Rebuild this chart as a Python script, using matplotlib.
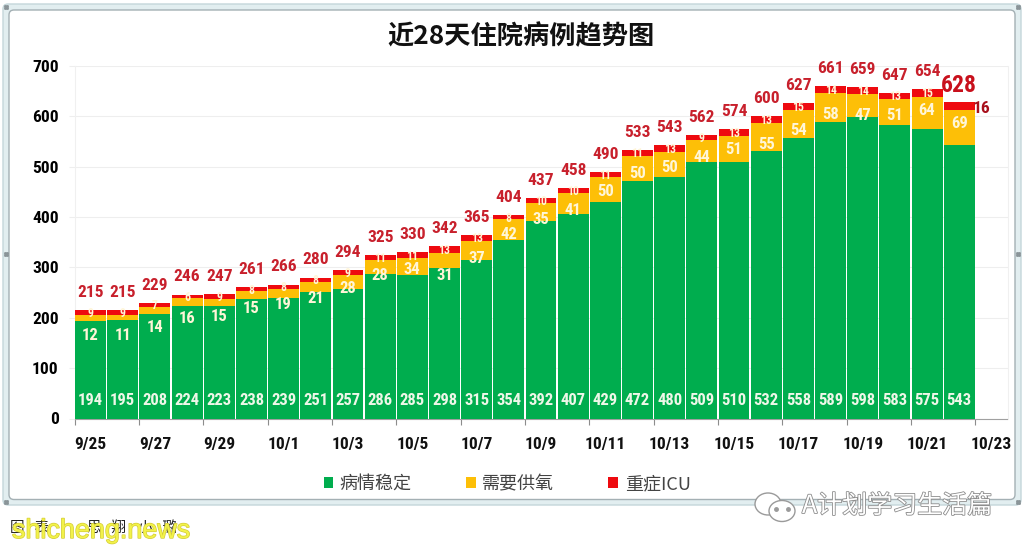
import matplotlib
matplotlib.use("Agg")
import matplotlib.pyplot as plt
from matplotlib import font_manager as fm
from matplotlib.patches import Ellipse, FancyBboxPatch
from matplotlib.ticker import FixedLocator
import matplotlib.patheffects as pe

W, H = 1024, 551

DATES = ["9/25", "9/26", "9/27", "9/28", "9/29", "9/30", "10/1", "10/2", "10/3", "10/4",
         "10/5", "10/6", "10/7", "10/8", "10/9", "10/10", "10/11", "10/12", "10/13", "10/14",
         "10/15", "10/16", "10/17", "10/18", "10/19", "10/20", "10/21", "10/22"]
STABLE = [194, 195, 208, 224, 223, 238, 239, 251, 257, 286, 285, 298, 315, 354,
          392, 407, 429, 472, 480, 509, 510, 532, 558, 589, 598, 583, 575, 543]
OXYGEN = [12, 11, 14, 16, 15, 15, 19, 21, 28, 28, 34, 31, 37, 42,
          35, 41, 50, 50, 50, 44, 51, 55, 54, 58, 47, 51, 64, 69]
ICU = [9, 9, 7, 6, 9, 8, 8, 8, 9, 11, 11, 13, 13, 8,
       10, 10, 11, 11, 13, 9, 13, 13, 15, 14, 14, 13, 15, 16]
TOTAL = [215, 215, 229, 246, 247, 261, 266, 280, 294, 325, 330, 342, 365, 404,
         437, 458, 490, 533, 543, 562, 574, 600, 627, 661, 659, 647, 654, 628]
TICK_LABELS = ["9/25", "9/27", "9/29", "10/1", "10/3", "10/5", "10/7", "10/9", "10/11",
               "10/13", "10/15", "10/17", "10/19", "10/21", "10/23"]
YTICKS = [0, 100, 200, 300, 400, 500, 600, 700]

# the oxygen labels were placed by hand in the source, so read their heights off it
OXYGEN_LABEL_Y = [165, 165, 181, 199, 203, 219, 227, 239, 258, 284, 296, 284, 318, 366,
                  396, 414, 450, 486, 499, 519, 535, 545, 571, 604, 602, 602, 611, 586]

GREEN, YELLOW, RED = "#00ad4e", "#fdbf07", "#ee0a0f"
LABEL_RED = "#c8202c"
CJK = ["Noto Sans CJK SC", "DejaVu Sans"]

# narrowest family that is actually installed
installed = {f.name for f in fm.fontManager.ttflist}
NARROW = next((n for n in ["Liberation Sans Narrow", "Roboto Condensed", "Open Sans Condensed",
                           "Lato", "Roboto"] if n in installed), "DejaVu Sans")
plt.rcParams["font.family"] = [NARROW, "DejaVu Sans"]

fig = plt.figure(figsize=(W / 100, H / 100), dpi=100)
bg = fig.add_axes([0, 0, 1, 1], zorder=0)
bg.set_xlim(0, W)
bg.set_ylim(H, 0)
bg.axis("off")
# the screenshot's rounded chart frame with its resize handles
bg.add_patch(FancyBboxPatch((3, 4), 1018, 501, boxstyle="round,pad=0,rounding_size=5",
                            fc="#e2eef0", ec="#c4d6da", lw=1))
bg.add_patch(FancyBboxPatch((9, 10), 1006, 489.5, boxstyle="round,pad=0,rounding_size=5",
                            fc="white", ec="#a4b0b4", lw=1))
for hx, hy in [(6, 7), (1018, 7), (6, 502), (1018, 502), (6, 254), (1018, 254)]:
    bg.plot([hx - 1, hx + 1, hx - 1, hx + 1], [hy - 1, hy - 1, hy + 1, hy + 1], ls="none",
            marker="s", ms=1, color="#8a9498")

ax = fig.add_axes([74.5 / W, 1 - 418.5 / H, (1007.5 - 74.5) / W, (418.5 - 66) / H], zorder=1)
ax.patch.set_alpha(0)
x = list(range(len(DATES)))
ax.bar(x, STABLE, width=0.96, color=GREEN, zorder=3, label="病情稳定")
ax.bar(x, OXYGEN, width=0.96, bottom=STABLE, color=YELLOW, zorder=3, label="需要供氧")
bottom_icu = [s + o for s, o in zip(STABLE, OXYGEN)]
ax.bar(x, ICU, width=0.96, bottom=bottom_icu, color=RED, zorder=3, label="重症ICU")

last = len(x) - 1
for i in x:
    ax.text(i, 35, STABLE[i], ha="center", va="center", color="#eef7e8",
            fontsize=12, fontweight="bold", zorder=4)
    ax.text(i, OXYGEN_LABEL_Y[i], OXYGEN[i], ha="center", va="center", color="#fff6d8",
            fontsize=12, fontweight="bold", zorder=4)
    if i != last:
        ax.text(i, bottom_icu[i] + ICU[i] / 2 - 2, ICU[i], ha="center", va="center", color="#fff6d8",
                fontsize=8.5, fontweight="bold", zorder=4)
        ax.text(i, TOTAL[i] + 35, TOTAL[i], ha="center", va="center", color=LABEL_RED,
                fontsize=12.5, fontweight="bold", zorder=4)
# last day is called out bigger, its ICU count sits beside the bar
ax.text(last, TOTAL[last] + 34, TOTAL[last], ha="center", va="center", color="#c8101c",
        fontsize=17, fontweight="bold", zorder=4)
ax.text(last + 0.7, bottom_icu[last] + ICU[last] / 2 - 4, ICU[last], ha="center", va="center",
        color="#a8101c", fontsize=12.5, fontweight="bold", zorder=4)

ax.set_xlim(-0.5, 28.5)
ax.set_ylim(0, 700)
ax.yaxis.set_major_locator(FixedLocator(YTICKS))
ax.grid(axis="y", color="#eeeeee", lw=0.8, zorder=0)
ax.tick_params(axis="y", length=4.5, color="#eeeeee", pad=7, labelsize=12.5)
for lab in ax.get_yticklabels():
    lab.set_fontweight("bold")
ax.set_xticks([p - 0.5 for p in range(0, 30, 2)])
ax.set_xticklabels([])
ax.tick_params(axis="x", length=4.5, width=0.8, color="#8c8c8c")
for p, lab in zip(range(0, 30, 2), TICK_LABELS):
    ax.text(p, -0.075, lab, transform=ax.get_xaxis_transform(), ha="center", va="center",
            fontsize=12.5, fontweight="bold", color="#111111")
ax.spines["top"].set_visible(False)
ax.spines["left"].set_color("#f0f0f0")
ax.spines["right"].set_color("#f0f0f0")
ax.spines["bottom"].set_color("#a0a0a0")

fig.text(521 / W, 1 - 37 / H, "近28天住院病例趋势图", ha="center", va="center",
         fontsize=18.9, fontweight="bold", family=CJK, color="#111111")

leg = fig.legend(*ax.get_legend_handles_labels(), loc="center", bbox_to_anchor=(507 / W, 1 - 484 / H),
                 ncols=3, frameon=False, handlelength=0.55, handleheight=0.55, handletextpad=0.35,
                 columnspacing=3.0, prop={"family": CJK, "size": 13})
for t in leg.get_texts():
    t.set_color("#444444")

# caption, site mark and account watermark printed over the screenshot
for cx, cap in [(10, "图   表"), (87, "思   翔"), (138, "小   璐")]:
    bg.text(cx, 528, cap, ha="left", va="center", fontsize=10.5, family=CJK, color="#222222")
bg.text(12, 531, "shicheng.news", ha="left", va="center", fontsize=19.4, color="#f2f24a", zorder=5,
        family="Liberation Sans",
        path_effects=[pe.withStroke(linewidth=1, foreground="#d4cc38")])
bg.text(802, 506, "A计划学习生活篇", ha="left", va="center", fontsize=18, family=CJK,
        color="white", zorder=5,
        path_effects=[pe.withStroke(linewidth=1.2, foreground="#8c8c8c")])
# wechat mark next to the account name
bg.add_patch(Ellipse((768, 504), 26, 22, fc="white", ec="#9a9a9a", lw=1, zorder=5))
bg.add_patch(Ellipse((782, 511), 26, 21, fc="white", ec="#9a9a9a", lw=1, zorder=5))
bg.plot([776, 788], [509, 509], ls="none", marker="o", ms=2.5, color="#9a9a9a", zorder=6)

fig.savefig("out.png", dpi=100)
